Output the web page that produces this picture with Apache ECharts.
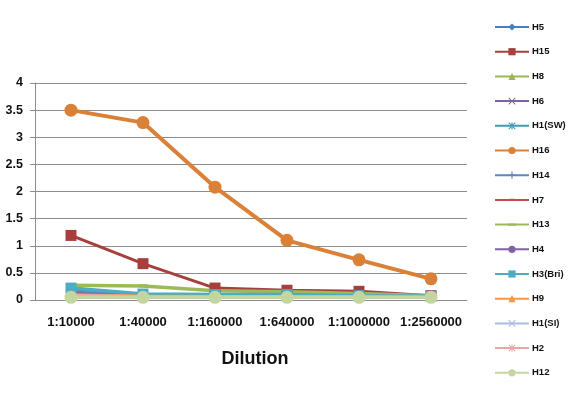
<!DOCTYPE html>
<html>
<head>
<meta charset="utf-8">
<script src="https://cdn.jsdelivr.net/npm/echarts@6/dist/echarts.min.js"></script>
<style>html,body{margin:0;padding:0;background:#fff}#c{width:568px;height:396px}</style>
</head>
<body>
<div id="c"></div>
<script>
const categories = ['1:10000','1:40000','1:160000','1:640000','1:1000000','1:2560000'];
const seriesNames = ['H5','H15','H8','H6','H1(SW)','H16','H14','H7','H13','H4','H3(Bri)','H9','H1(SI)','H2','H12'];
const H5 = [0.12,0.10,0.08,0.07,0.06,0.06];
const H15 = [1.19,0.67,0.22,0.18,0.16,0.08];
const H8 = [0.10,0.09,0.08,0.07,0.06,0.06];
const H6 = [0.08,0.07,0.07,0.06,0.06,0.05];
const H1SW = [0.20,0.10,0.09,0.08,0.07,0.06];
const H16 = [3.50,3.27,2.08,1.10,0.74,0.39];
const H14 = [0.15,0.09,0.08,0.07,0.07,0.06];
const H7 = [0.12,0.08,0.08,0.08,0.07,0.06];
const H13 = [0.27,0.26,0.17,0.15,0.12,0.08];
const H4 = [0.10,0.08,0.07,0.07,0.06,0.06];
const H3Bri = [0.22,0.11,0.10,0.10,0.08,0.07];
const H9 = [0.10,0.08,0.07,0.07,0.06,0.06];
const H1SI = [0.07,0.07,0.06,0.06,0.06,0.05];
const H2 = [0.09,0.07,0.07,0.06,0.06,0.05];
const H12 = [0.05,0.05,0.05,0.05,0.05,0.05];
const seriesData = [H5,H15,H8,H6,H1SW,H16,H14,H7,H13,H4,H3Bri,H9,H1SI,H2,H12];
const yTicks = [0,0.5,1,1.5,2,2.5,3,3.5,4];

const BOX = 'M0,0L0.01,0L0,0.01ZM10,10L9.99,10L10,9.99Z';
const X = 'path://M0,1L1,0L5,4L9,0L10,1L6,5L10,9L9,10L5,6L1,10L0,9L4,5Z';
const STAR = 'path://M0,1L1,0L5,4L9,0L10,1L6,5L10,9L9,10L5,6L1,10L0,9L4,5ZM4.3,0H5.7V10H4.3Z';
const PLUS = 'path://M4.2,0H5.8V4.2H10V5.8H5.8V10H4.2V5.8H0V4.2H4.2Z';
const DASH = 'path://M1,3.5H9V6.5H1Z' + BOX;
const DASHL = 'path://M0,3.3H10V6.7H0Z' + BOX;
const styles = [
  {c:'#4A7EBB', s:'diamond', z:8, w:2.5},
  {c:'#A7403D', s:'rect', z:11, w:3},
  {c:'#98B954', s:'triangle', z:9, w:2.5},
  {c:'#7E62A1', s:X, z:8, w:2.5},
  {c:'#3F9DB5', s:STAR, z:8, w:2.5},
  {c:'#DA8137', s:'circle', z:13, w:4},
  {c:'#5B87C6', s:PLUS, z:8, w:2.5},
  {c:'#C0504D', s:DASH, z:8, w:2.5},
  {c:'#9BBB59', s:DASHL, z:9, w:3.5},
  {c:'#8064A2', s:'circle', z:7, w:2.5},
  {c:'#4BACC6', s:'rect', z:11, w:3.5},
  {c:'#F79646', s:'triangle', z:9, w:2.5},
  {c:'#A9BCE0', s:X, z:8, w:2.5},
  {c:'#E6A8A6', s:STAR, z:8, w:2.5},
  {c:'#C4D6A0', s:'circle', z:13, w:3.5}
];

const chart = echarts.init(document.getElementById('c'), null, {renderer:'canvas'});
chart.setOption({
  animation:false,
  backgroundColor:'#fff',
  textStyle:{fontFamily:'Liberation Sans, Arial, sans-serif'},
  grid:{left:35, right:101, top:83, bottom:96},
  title:{text:'Dilution', left:250, top:345, textAlign:'center',
    textStyle:{fontSize:18, fontWeight:'bold', color:'#111'}},
  legend:{orient:'vertical', left:489, top:17, itemWidth:34, itemHeight:9, itemGap:14.7,
    textStyle:{fontSize:9.5, fontWeight:'bold', color:'#111', padding:[0,0,0,-2]},
    data:seriesNames},
  xAxis:{type:'category', data:categories, boundaryGap:true,
    axisLine:{lineStyle:{color:'#8c8c8c'}},
    axisTick:{show:false},
    axisLabel:{fontSize:13, fontWeight:'bold', color:'#111', margin:16, interval:0}},
  yAxis:{type:'value', min:0, max:4, interval:0.5,
    axisLine:{show:true, lineStyle:{color:'#8c8c8c'}},
    axisTick:{show:true, length:5, lineStyle:{color:'#8c8c8c'}},
    splitLine:{lineStyle:{color:'#8c8c8c'}},
    axisLabel:{fontSize:12.5, fontWeight:'bold', color:'#111', margin:12,
      formatter:v=>yTicks.includes(v)?String(v):''}},
  series: seriesNames.map((n,i)=>({
    name:n, type:'line', data:seriesData[i],
    symbol:styles[i].s, symbolSize:styles[i].z,
    lineStyle:{width:styles[i].w, color:styles[i].c},
    itemStyle:{color:styles[i].c},
    emphasis:{disabled:true}
  }))
});
</script>
</body>
</html>
